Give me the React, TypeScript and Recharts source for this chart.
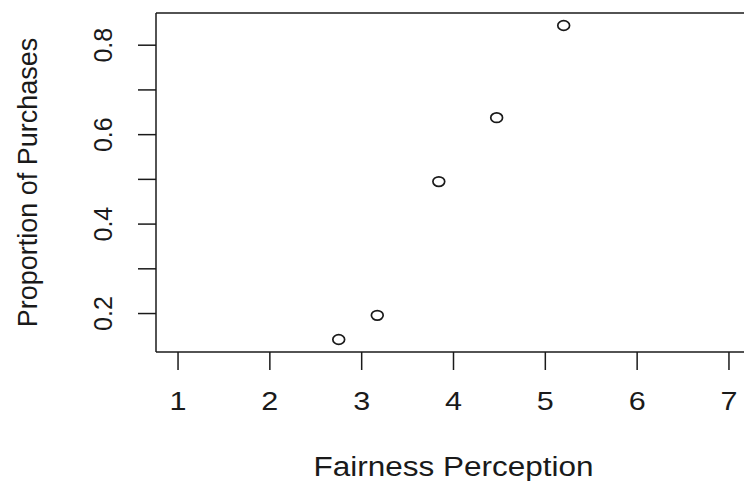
import React from 'react';
import { ScatterChart, Scatter, XAxis, YAxis, ReferenceLine } from 'recharts';

const fairness = [2.75, 3.17, 3.84, 4.47, 5.2];
const proportion = [0.142, 0.196, 0.495, 0.638, 0.844];
const xTicks = [1, 2, 3, 4, 5, 6, 7];
const yTicks = [0.2, 0.3, 0.4, 0.5, 0.6, 0.7, 0.8];
const yLabelTicks = [0.2, 0.4, 0.6, 0.8];
const xDomain: [number, number] = [0.76, 7.24];
const yDomain: [number, number] = [0.114, 0.872];
const xTitle = 'Fairness Perception';
const yTitle = 'Proportion of Purchases';

const data = fairness.map((f, i) => ({ x: f, y: proportion[i] }));

const FONT = '"Liberation Sans", Arial, Helvetica, sans-serif';
const INK = '#1a1a1a';

const Ring = (props: any) => {
  const { cx, cy } = props;
  return <ellipse cx={cx} cy={cy} rx={5.9} ry={4.8} fill="none" stroke={INK} strokeWidth={1.7} />;
};

const XTick = (props: any) => {
  const { x, y, payload } = props;
  return (
    <text
      x={x}
      y={y + 18.5}
      textAnchor="middle"
      fontSize={26}
      fontFamily={FONT}
      fill={INK}
      textLength={17}
      lengthAdjust="spacingAndGlyphs"
    >
      {String(payload.value)}
    </text>
  );
};

const YTick = (props: any) => {
  const { x, y, payload } = props;
  const v = Math.round(payload.value * 10) / 10;
  if (!yLabelTicks.some((t) => Math.abs(t - v) < 1e-9)) return null;
  const bx = x - 24;
  return (
    <text
      x={bx}
      y={y}
      transform={`rotate(-90, ${bx}, ${y})`}
      textAnchor="middle"
      fontSize={25}
      fontFamily={FONT}
      fill={INK}
    >
      {v.toFixed(1)}
    </text>
  );
};

const XTitle = (props: any) => {
  const vb = props.viewBox;
  return (
    <text
      x={vb.x + vb.width / 2}
      y={vb.y + 124}
      textAnchor="middle"
      fontSize={27}
      fontFamily={FONT}
      fill={INK}
      textLength={280}
      lengthAdjust="spacingAndGlyphs"
    >
      {xTitle}
    </text>
  );
};

const YTitle = (props: any) => {
  const vb = props.viewBox;
  const bx = vb.x + 37;
  const cy = vb.y + vb.height / 2;
  return (
    <text
      x={bx}
      y={cy}
      transform={`rotate(-90, ${bx}, ${cy})`}
      textAnchor="middle"
      fontSize={27}
      fontFamily={FONT}
      fill={INK}
    >
      {yTitle}
    </text>
  );
};

export default function App() {
  return (
    <div
      style={{
        position: 'absolute',
        left: 0,
        top: 0,
        width: 744,
        height: 481,
        overflow: 'hidden',
        background: '#fff',
      }}
    >
      <ScatterChart width={760} height={481} margin={{ top: 13, right: 9, bottom: 0, left: 0 }}>
        <XAxis
          type="number"
          dataKey="x"
          domain={xDomain}
          ticks={xTicks}
          allowDataOverflow
          height={129}
          tickSize={18}
          tickMargin={21}
          axisLine={{ stroke: INK, strokeWidth: 1.5 }}
          tickLine={{ stroke: INK, strokeWidth: 1.5 }}
          tick={<XTick />}
          interval={0}
          label={<XTitle />}
        />
        <YAxis
          type="number"
          dataKey="y"
          domain={yDomain}
          ticks={yTicks}
          allowDataOverflow
          width={156}
          tickSize={18}
          axisLine={{ stroke: INK, strokeWidth: 1.5 }}
          tickLine={{ stroke: INK, strokeWidth: 1.5 }}
          tick={<YTick />}
          interval={0}
          label={<YTitle />}
        />
        <ReferenceLine y={yDomain[1]} stroke={INK} strokeWidth={1.5} ifOverflow="visible" />
        <Scatter data={data} shape={<Ring />} isAnimationActive={false} />
      </ScatterChart>
    </div>
  );
}
